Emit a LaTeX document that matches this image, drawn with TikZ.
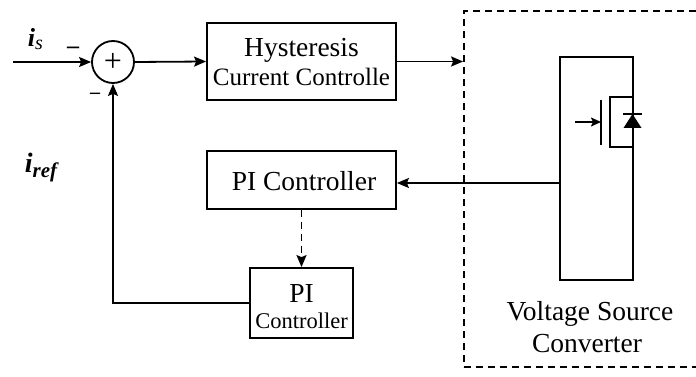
\documentclass[tikz,border=0pt]{standalone}
\usepackage{fontspec}
\setmainfont{Liberation Serif}
\usetikzlibrary{arrows.meta}
\begin{document}
\begin{tikzpicture}[x=1pt,y=-1pt,
  line width=1.8pt,
  arr/.style={-{Stealth[length=12pt,width=10pt,inset=2pt]}},
  arrsm/.style={-{Stealth[length=10pt,width=9pt,inset=2pt]}},
  blk/.style={draw,rectangle,inner sep=0pt},
  txt/.style={inner sep=0pt,anchor=base},
  big/.style={font=\fontsize{27.5}{30}\selectfont},
  mid/.style={font=\fontsize{25}{28}\selectfont},
  sml/.style={font=\fontsize{22.5}{26}\selectfont},
  dsh/.style={dashed,dash pattern=on 7pt off 5pt}]
\useasboundingbox (0,0) rectangle (696,377);
% blocks
\node[draw,circle,minimum size=42pt,inner sep=0pt] (sum) at (113,62) {};
\node[font=\fontsize{32}{32}\selectfont,inner sep=0pt] (plus) at (113,62) {+};
\node[blk,minimum width=189pt,minimum height=77pt] (hyst) at (301.5,61.5) {};
\node[txt,big] (hystA) at (301.5,57) {Hysteresis};
\node[txt,mid] (hystB) at (301.5,86) {Current Controlle};
\node[blk,minimum width=189pt,minimum height=58pt] (pic) at (301.5,180) {};
\node[txt,big] (picT) at (304,190) {PI Controller};
\node[blk,minimum width=103pt,minimum height=70pt] (pi2) at (301.5,303) {};
\node[txt,big] (pi2A) at (301.5,302) {PI};
\node[txt,sml] (pi2B) at (301.5,328) {Controller};
\node[blk,dsh,minimum width=250pt,minimum height=356pt] (vsc) at (589,189) {};
\node[blk,minimum width=73pt,minimum height=223pt] (sw) at (596.5,168.5) {};
\node[txt,big] (vscA) at (590,320) {Voltage Source};
\node[txt,big] (vscB) at (587,352) {Converter};
% labels
\node[txt,anchor=base west] (is) at (27,47) {\fontsize{26}{26}\selectfont\bfseries\itshape i\raisebox{-3pt}{\fontsize{20}{20}\selectfont\mdseries s}};
\node[txt,anchor=base west] (iref) at (24,172) {\fontsize{28}{28}\selectfont\bfseries\itshape i\raisebox{-5pt}{\fontsize{21}{21}\selectfont ref}};
\node[inner sep=0pt,font=\fontsize{24}{24}\selectfont\bfseries] (m1) at (73,50) {–};
\node[inner sep=0pt,font=\fontsize{20}{20}\selectfont\bfseries] (m2) at (95,96) {–};
% connectors
\coordinate (in) at (13,62);
\draw[arr] (in) -- (sum.west);
\draw[arr] (sum.east) -- (hyst.west);
\draw[arr] (hyst.east) -- (vsc.west |- hyst.east);
\coordinate (fb) at (560,183);
\draw[arr] (fb) -- (pic.east |- fb);
\draw[arr,dsh] (pic.south) -- (pi2.north);
\draw[arr] (pi2.west) -| (sum.south);
% switch symbol
\coordinate (g1) at (601,100);
\coordinate (g2) at (601,145);
\coordinate (ga) at (575,122);
\draw (g1) -- (g2);
\draw[arrsm] (ga) -- (g1 |- ga);
\draw (633,97) -- (610,97) -- (610,147) -- (633,147);
\draw (623,114) -- (642,114);
\fill (632.5,114) -- (623.5,128) -- (641.5,128) -- cycle;
\end{tikzpicture}
\end{document}
